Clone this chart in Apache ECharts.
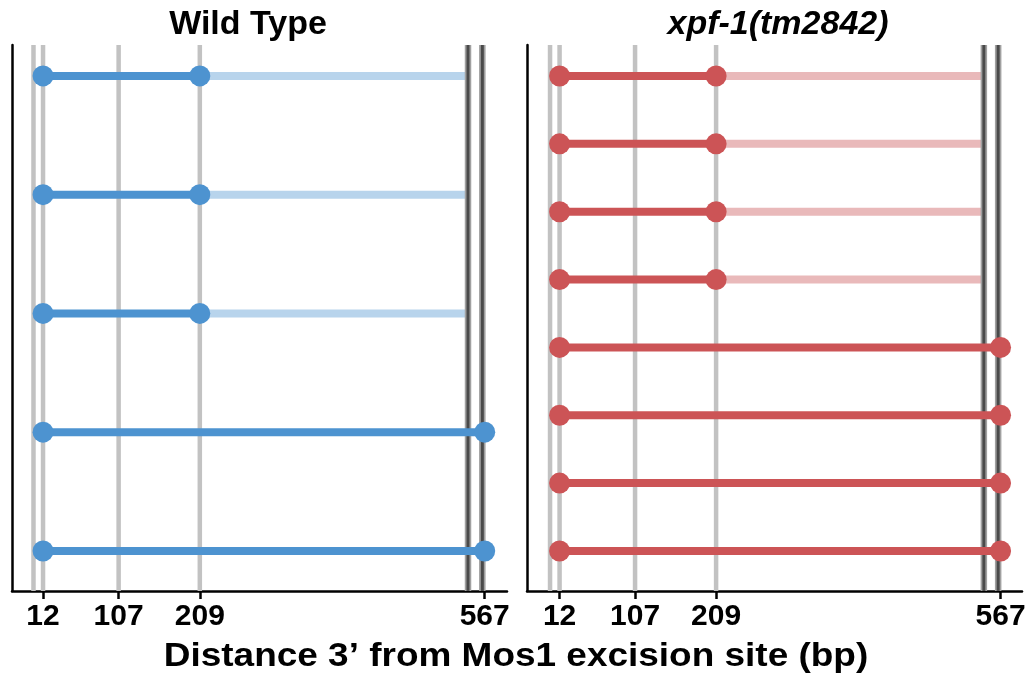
<!DOCTYPE html>
<html>
<head>
<meta charset="utf-8">
<script src="https://cdn.jsdelivr.net/npm/echarts@6/dist/echarts.min.js"></script>
<style>
  html, body { margin: 0; padding: 0; background: #fff; }
  #chart { width: 1029px; height: 678px; }
</style>
</head>
<body>
<div id="chart"></div>
<script>
// data
const tickVals = [12, 107, 209, 567];
const greyRefs = [0, 12, 107, 209];
const darkRefs = [546, 564];
const segStart = 12;
const fadeEnd = 546;
const wtRowEnds = [209, 209, 209, 567, 567];
const xpfRowEnds = [209, 209, 209, 209, 567, 567, 567, 567];
const panelTitles = ['Wild Type', 'xpf-1(tm2842)'];
const axisTitle = 'Distance 3\u2019 from Mos1 excision site (bp)';

const FONT = '"Liberation Sans", Arial, sans-serif';

const vline = (color, width) => (params, api) => {
    const x = api.coord([api.value(0), 1])[0];
    const cs = params.coordSys;
    return {
        type: 'line',
        shape: { x1: x, y1: cs.y, x2: x, y2: cs.y + cs.height },
        style: { stroke: color, lineWidth: width },
    };
};

const panelSeries = (gi, rowEnds, dark, light) => {
    const out = [];
    const ax = { xAxisIndex: gi, yAxisIndex: gi };
    out.push({ type: 'custom', ...ax, z: 1, silent: true, data: greyRefs.map((v) => [v]), renderItem: vline('#c2c2c2', 4.5) });
    out.push({ type: 'custom', ...ax, z: 3, silent: true, data: darkRefs.map((v) => [v]), renderItem: vline('#a0a0a0', 6.5) });
    out.push({ type: 'custom', ...ax, z: 3, silent: true, data: darkRefs.map((v) => [v]), renderItem: vline('#4a4a4a', 3) });
    rowEnds.forEach((end, i) => {
        const row = i + 1;
        if (end < fadeEnd) {
            out.push({
                type: 'line', ...ax, z: 2, silent: true,
                data: [[end, row], [fadeEnd, row]],
                symbol: 'none',
                lineStyle: { color: light, width: 8 },
            });
        }
        out.push({
            type: 'line', ...ax, z: 4, silent: true,
            data: [[segStart, row], [end, row]],
            symbol: 'circle',
            symbolSize: 21,
            showAllSymbol: true,
            itemStyle: { color: dark },
            lineStyle: { color: dark, width: 8 },
        });
    });
    return out;
};

const xAxisCfg = (gi, min, max) => ({
    type: 'value',
    gridIndex: gi,
    min: min,
    max: max,
    splitLine: { show: false },
    axisLine: { onZero: false, lineStyle: { color: '#000', width: 2.5 } },
    axisTick: { customValues: tickVals, length: 8, lineStyle: { color: '#000', width: 2.5 } },
    axisLabel: {
        customValues: tickVals,
        margin: 11,
        color: '#000',
        fontSize: 30,
        fontWeight: 'bold',
        fontFamily: FONT,
    },
});

const yAxisCfg = (gi, min, max) => ({
    type: 'value',
    gridIndex: gi,
    inverse: true,
    min: min,
    max: max,
    splitLine: { show: false },
    axisTick: { show: false },
    axisLabel: { show: false },
    axisLine: { show: true, onZero: false, lineStyle: { color: '#000', width: 2.5 } },
});

const chart = echarts.init(document.getElementById('chart'));
chart.setOption({
    animation: false,
    backgroundColor: '#fff',
    grid: [
        { left: 12, top: 45, width: 495, height: 546 },
        { left: 527, top: 45, width: 495, height: 546 },
    ],
    xAxis: [xAxisCfg(0, -27, 595), xAxisCfg(1, -29, 594)],
    yAxis: [yAxisCfg(0, 0.74, 5.337), yAxisCfg(1, 0.543, 8.59)],
    series: [
        ...panelSeries(0, wtRowEnds, '#4d93d0', '#b8d4ec'),
        ...panelSeries(1, xpfRowEnds, '#cc5456', '#e9b9ba'),
    ],
    graphic: [
        {
            type: 'text', x: 248, y: 25,
            style: { text: panelTitles[0], fill: '#000', font: 'bold 34px ' + FONT, textAlign: 'center', textVerticalAlign: 'middle' },
        },
        {
            type: 'text', x: 778, y: 25,
            style: { text: panelTitles[1], fill: '#000', font: 'italic bold 34px ' + FONT, textAlign: 'center', textVerticalAlign: 'middle' },
        },
        {
            type: 'text', x: 516, y: 657, scaleX: 1.12,
            style: { text: axisTitle, fill: '#000', font: 'bold 33px ' + FONT, textAlign: 'center', textVerticalAlign: 'middle' },
        },
    ],
});
</script>
</body>
</html>
